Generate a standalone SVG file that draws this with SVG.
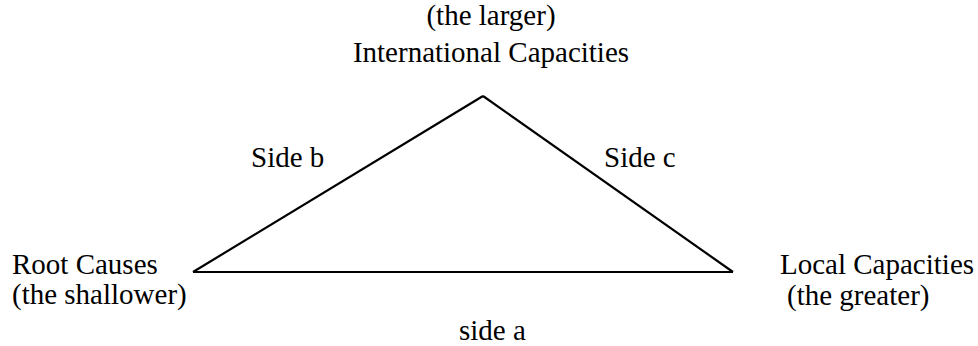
<svg xmlns="http://www.w3.org/2000/svg" width="978" height="346" viewBox="0 0 978 346">
<style>
text{font-family:"Liberation Serif","Times New Roman",serif;font-size:29px;fill:#000}
.edge{stroke:#000;stroke-width:2.2;fill:none}
</style>
<rect width="978" height="346" fill="#fff"/>
<g id="connectors">
<line class="edge" x1="193" y1="272" x2="483" y2="96"/>
<line class="edge" x1="483" y1="96" x2="733" y2="272"/>
<line class="edge" x1="193" y1="272" x2="733" y2="272"/>
</g>
<g id="node-international">
<text x="491" y="25" text-anchor="middle">(the larger)</text>
<text x="491" y="62" text-anchor="middle">International Capacities</text>
</g>
<g id="node-root">
<text x="12" y="274">Root Causes</text>
<text x="12" y="304">(the shallower)</text>
</g>
<g id="node-local">
<text x="780" y="274">Local Capacities</text>
<text x="787" y="305">(the greater)</text>
</g>
<g id="labels">
<text x="251" y="167">Side b</text>
<text x="604" y="167">Side c</text>
<text x="459" y="340">side a</text>
</g>
</svg>
